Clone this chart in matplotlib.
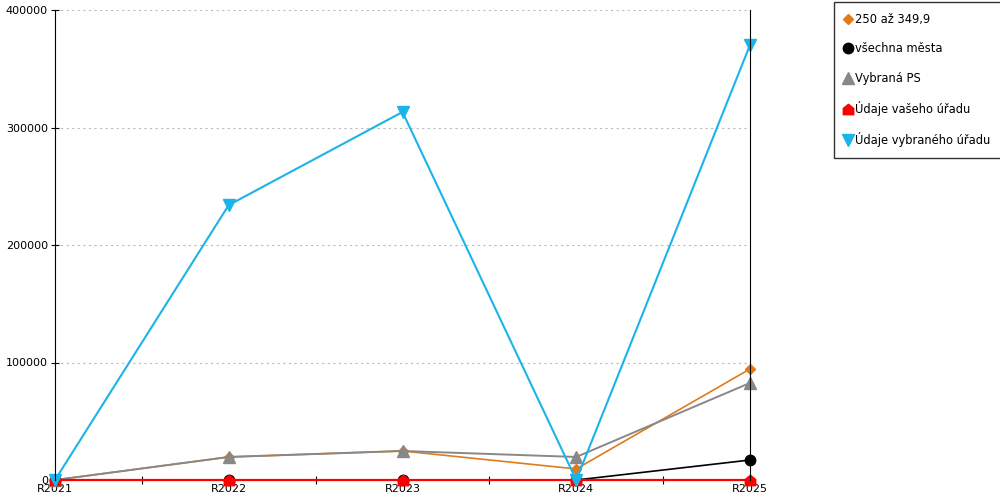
import numpy as np
import matplotlib.pyplot as plt
from matplotlib.path import Path
from matplotlib.ticker import FixedLocator

years = ['R2021', 'R2022', 'R2023', 'R2024', 'R2025']
orange = [0, 19600, 24700, 9400, 94500]
black = [0, 0, 0, 0, 17000]
gray = [0, 19600, 24700, 19600, 82600]
red = [0, 0, 0, 0, 0]
blue = [0, 234000, 313200, 0, 370200]

names = ['250 až 349,9', 'všechna města', 'Vybraná PS',
         'Údaje vašeho úřadu', 'Údaje vybraného úřadu']

# red marker looks like a little house
house = Path([(-1, -1), (1, -1), (1, 0.2), (0, 1), (-1, 0.2), (-1, -1)],
             [Path.MOVETO, Path.LINETO, Path.LINETO, Path.LINETO, Path.LINETO, Path.CLOSEPOLY])

fig = plt.figure(figsize=(10, 5), dpi=100)
ax = fig.add_axes([0.055, 0.04, 0.695, 0.94])
x = np.arange(len(years))

ax.plot(x, orange, color='#e07b1c', lw=1.2, marker='D', ms=5.5, clip_on=False, label=names[0])
ax.plot(x, black, color='black', lw=1.2, marker='o', ms=7.5, clip_on=False, label=names[1])
ax.plot(x, gray, color='#888888', lw=1.4, marker='^', ms=8, clip_on=False, label=names[2])
ax.plot(x, red, color='#ff0000', lw=1.6, marker=house, ms=7.5, clip_on=False, label=names[3])
ax.plot(x, blue, color='#1ab4ea', lw=1.5, marker='v', ms=8, clip_on=False, label=names[4])

ax.set_xlim(0, 4)
ax.set_ylim(0, 400000)
ax.set_xticks(x)
ax.set_xticklabels(years)
ax.xaxis.set_minor_locator(FixedLocator([0.5, 1.5, 2.5, 3.5]))
ax.tick_params(axis='x', which='major', length=0, labelsize=8, pad=3)
ax.tick_params(axis='x', which='minor', length=6, direction='inout', width=0.8)
ax.set_yticks([0, 100000, 200000, 300000, 400000])
ax.tick_params(axis='y', length=6, direction='inout', labelsize=8, pad=2)
ax.grid(axis='y', color='#bbbbbb', ls=(0, (2, 3)), lw=0.8)
ax.spines['top'].set_visible(False)
ax.spines['right'].set_color('black')
ax.spines['bottom'].set_visible(False)

handles, labels = ax.get_legend_handles_labels()
leg = fig.legend(handles, labels, loc='upper left', bbox_to_anchor=(0.834, 0.996),
                 fontsize=8.3, frameon=True, fancybox=False, edgecolor='black',
                 handlelength=0.5, handletextpad=0.4, labelspacing=1.42,
                 borderpad=0.95, borderaxespad=0)
for lh in leg.legend_handles:
    lh.set_linestyle('none')
leg.get_frame().set_linewidth(1)

plt.savefig('out.png')
